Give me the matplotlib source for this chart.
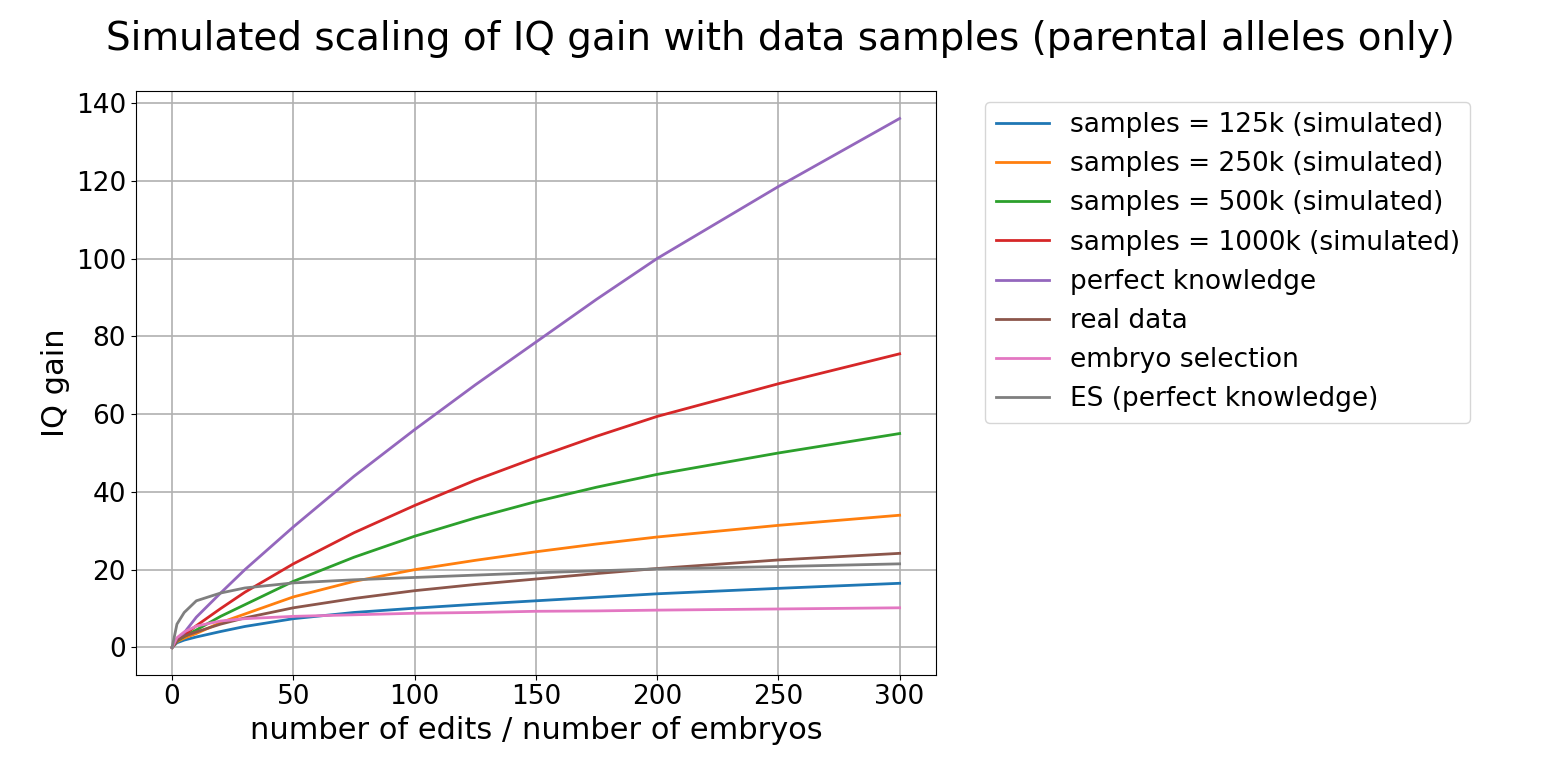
import matplotlib
matplotlib.use("Agg")
import matplotlib.pyplot as plt

x = [0, 2, 5, 10, 20, 30, 50, 75, 100, 125, 150, 175, 200, 250, 300]
s125 = [0, 1.2, 1.9, 2.7, 4.1, 5.4, 7.4, 9.0, 10.1, 11.1, 12.0, 12.9, 13.8, 15.2, 16.5]
s250 = [0, 1.5, 2.4, 3.6, 6.4, 8.6, 13.0, 17.0, 20.0, 22.4, 24.6, 26.6, 28.4, 31.4, 34.0]
s500 = [0, 1.7, 2.8, 4.5, 8.0, 11.0, 17.0, 23.2, 28.6, 33.3, 37.5, 41.2, 44.5, 50.0, 55.0]
s1000 = [0, 1.8, 3.2, 5.6, 10.0, 14.2, 21.5, 29.5, 36.5, 43.0, 48.8, 54.3, 59.4, 67.8, 75.5]
perfect = [0, 2.0, 3.8, 7.8, 14.0, 20.0, 31.0, 44.0, 56.0, 67.5, 78.5, 89.5, 100.0, 118.5, 136.0]
real = [0, 1.8, 2.9, 4.0, 6.0, 7.6, 10.2, 12.6, 14.6, 16.2, 17.6, 19.0, 20.3, 22.5, 24.2]
embryo = [0, 2.5, 4.0, 5.5, 6.8, 7.4, 8.0, 8.4, 8.8, 9.0, 9.3, 9.4, 9.6, 9.9, 10.2]
es_perfect = [0, 6.0, 9.0, 12.0, 14.0, 15.3, 16.6, 17.4, 18.0, 18.6, 19.2, 19.7, 20.2, 20.8, 21.5]

series = [
    ("samples = 125k (simulated)", s125, "#1f77b4"),
    ("samples = 250k (simulated)", s250, "#ff7f0e"),
    ("samples = 500k (simulated)", s500, "#2ca02c"),
    ("samples = 1000k (simulated)", s1000, "#d62728"),
    ("perfect knowledge", perfect, "#9467bd"),
    ("real data", real, "#8c564b"),
    ("embryo selection", embryo, "#e377c2"),
    ("ES (perfect knowledge)", es_perfect, "#7f7f7f"),
]

fig = plt.figure(figsize=(15.6, 7.8), dpi=100)
ax = fig.add_axes([0.087, 0.135, 0.513, 0.748])
for label, y, c in series:
    ax.plot(x, y, color=c, lw=2, label=label)
ax.set_xlim(-15, 315)
ax.set_ylim(-7, 143)
ax.set_xticks([0, 50, 100, 150, 200, 250, 300])
ax.set_yticks(range(0, 141, 20))
ax.grid(True, color="#b0b0b0", lw=1.2)
ax.tick_params(labelsize=19)
ax.set_xlabel("number of edits / number of embryos", fontsize=22)
ax.set_ylabel("IQ gain", fontsize=22)
fig.suptitle("Simulated scaling of IQ gain with data samples (parental alleles only)", fontsize=28, y=0.975)
ax.legend(loc="upper left", bbox_to_anchor=(1.045, 1.005), fontsize=19, handlelength=2.0, labelspacing=0.5)
fig.savefig("out.png", dpi=100)
